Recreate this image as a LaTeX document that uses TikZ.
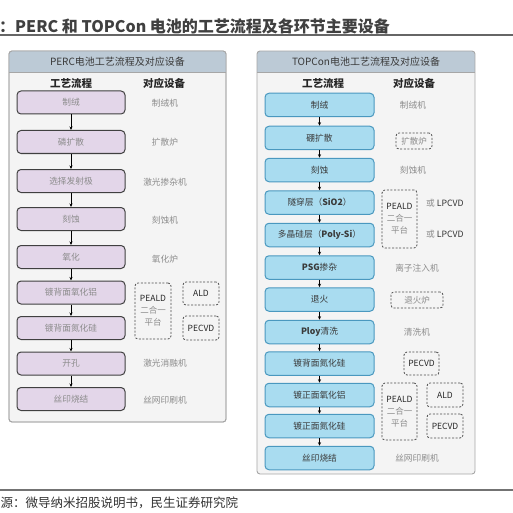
\documentclass[tikz,border=0pt]{standalone}
\usepackage{fontspec}
\setmainfont{Noto Sans CJK SC}
\usetikzlibrary{arrows.meta}
\definecolor{titlec}{HTML}{404040}
\definecolor{rulec}{HTML}{666666}
\definecolor{panelfill}{HTML}{F4F4F4}
\definecolor{paneldraw}{HTML}{A6A6A6}
\definecolor{hdrfill}{HTML}{BCCAD6}
\definecolor{purfill}{HTML}{E3D6E9}
\definecolor{purdraw}{HTML}{404040}
\definecolor{bluefill}{HTML}{A9DCF0}
\definecolor{bluedraw}{HTML}{4A98BF}
\definecolor{greytxt}{HTML}{8C8C8C}
\definecolor{darktxt}{HTML}{3A3A3A}
\begin{document}
\begin{tikzpicture}[x=1pt,y=-1pt,
  panel/.style={draw=paneldraw,fill=panelfill,line width=0.9pt,rounded corners=3pt},
  hdrtxt/.style={inner sep=0pt,text=darktxt,font=\fontsize{10}{12}\selectfont},
  colhead/.style={inner sep=0pt,text=black!85,font=\fontsize{10.5}{12}\selectfont\bfseries},
  pbox/.style={draw=purdraw,fill=purfill,line width=1pt,rounded corners=4pt,minimum width=108pt,minimum height=23pt,inner sep=0pt,text=greytxt,font=\fontsize{8.7}{10}\selectfont},
  tbox/.style={draw=bluedraw,fill=bluefill,line width=1pt,rounded corners=4pt,minimum width=109pt,minimum height=23.5pt,inner sep=0pt,text=darktxt,font=\fontsize{8.7}{10}\selectfont},
  equip/.style={inner sep=0pt,text=greytxt,font=\fontsize{8.7}{10}\selectfont},
  dbox/.style={draw=black!70,dash pattern=on 2pt off 1.6pt,line width=0.8pt,rounded corners=3pt,inner sep=0pt,align=center,text=black!85,font=\fontsize{8.5}{12}\selectfont},
  arr/.style={-{Stealth[length=3.5pt,width=3pt]},line width=0.7pt,black}
]
\useasboundingbox (0,0) rectangle (513,513);
\fill[white] (0,0) rectangle (513,513);

% title
\node[anchor=west,inner sep=0pt,text=titlec,font=\fontsize{16}{18}\selectfont\bfseries] (title) at (-1,26) {：PERC 和 TOPCon 电池的工艺流程及各环节主要设备};
\coordinate (tl) at (0,35);
\coordinate (tr) at (513,35);
\draw[rulec,line width=1.7pt] (tl) -- (tr);

% footer
\coordinate (fl) at (0,490);
\coordinate (fr) at (513,490);
\draw[black!55,line width=2pt] (fl) -- (fr);
\node[anchor=west,inner sep=0pt,text=black!80,font=\fontsize{12.5}{14}\selectfont] (src) at (0.5,503) {源：微导纳米招股说明书，民生证券研究院};

% ===== left panel =====
\draw[panel] (9,51) rectangle (226,422);
\begin{scope}
\clip[rounded corners=3pt] (9,51) rectangle (226,422);
\fill[hdrfill] (9,51) rectangle (226,72);
\end{scope}
\draw[paneldraw,line width=0.9pt] (9,72) -- (226,72);
\draw[paneldraw,line width=0.9pt,rounded corners=3pt] (9,51) rectangle (226,422);
\node[hdrtxt] (lh) at (117.5,62) {PERC电池工艺流程及对应设备};
\node[colhead] (lc1) at (71,83) {工艺流程};
\node[colhead] (lc2) at (164,83) {对应设备};

\node[pbox] (l1) at (71,102.5) {制绒};
\node[pbox] (l2) at (71,142) {磷扩散};
\node[pbox] (l3) at (71,181) {选择发射极};
\node[pbox] (l4) at (71,219) {刻蚀};
\node[pbox] (l5) at (71,257) {氧化};
\node[pbox] (l6) at (71,292.5) {镀背面氧化铝};
\node[pbox] (l7) at (71,328) {镀背面氮化硅};
\node[pbox] (l8) at (71,363.5) {开孔};
\node[pbox] (l9) at (71,399) {丝印烧结};
\foreach \a/\b in {l1/l2,l2/l3,l3/l4,l4/l5,l5/l6,l6/l7,l7/l8,l8/l9}
  \draw[arr] (\a) -- (\b);

\node[equip] (le1) at (165,103) {制绒机};
\node[equip] (le2) at (165,142) {扩散炉};
\node[equip] (le3) at (165,182) {激光掺杂机};
\node[equip] (le4) at (165,220) {刻蚀机};
\node[equip] (le5) at (165,259) {氧化炉};
\node[equip] (le8) at (165,363) {激光消融机};
\node[equip] (le9) at (165,400) {丝网印刷机};

\node[dbox,minimum width=36pt,minimum height=56pt] (lpeald) at (153,311) {PEALD\\{\color{greytxt}二合一}\\{\color{greytxt}平台}};
\node[dbox,minimum width=36pt,minimum height=23pt] (lald) at (201,293.5) {ALD};
\node[dbox,minimum width=36pt,minimum height=24pt] (lpecvd) at (201,328) {PECVD};

% ===== right panel =====
\begin{scope}
\clip[rounded corners=3pt] (257,51) rectangle (475,474);
\fill[panelfill] (257,51) rectangle (475,474);
\fill[hdrfill] (257,51) rectangle (475,72);
\end{scope}
\draw[paneldraw,line width=0.9pt] (257,72) -- (475,72);
\draw[paneldraw,line width=0.9pt,rounded corners=3pt] (257,51) rectangle (475,474);
\node[hdrtxt] (rh) at (366,62) {TOPCon电池工艺流程及对应设备};
\node[colhead] (rc1) at (323,83) {工艺流程};
\node[colhead] (rc2) at (414,83) {对应设备};

\node[tbox] (r1) at (319.5,105) {制绒};
\node[tbox] (r2) at (319.5,138) {硼扩散};
\node[tbox] (r3) at (319.5,170) {刻蚀};
\node[tbox] (r4) at (319.5,202.5) {隧穿层（\textbf{SiO2}）};
\node[tbox] (r5) at (319.5,235) {多晶硅层（\textbf{Poly-Si}）};
\node[tbox] (r6) at (319.5,267.5) {\textbf{PSG}掺杂};
\node[tbox] (r7) at (319.5,299.5) {退火};
\node[tbox] (r8) at (319.5,332) {\textbf{Ploy}清洗};
\node[tbox] (r9) at (319.5,363.5) {镀背面氮化硅};
\node[tbox] (r10) at (319.5,395) {镀正面氧化铝};
\node[tbox] (r11) at (319.5,426) {镀正面氮化硅};
\node[tbox] (r12) at (319.5,458) {丝印烧结};
\foreach \a/\b in {r1/r2,r2/r3,r3/r4,r4/r5,r5/r6,r6/r7,r7/r8,r8/r9,r9/r10,r10/r11,r11/r12}
  \draw[arr] (\a) -- (\b);

\node[equip] (re1) at (413,105) {制绒机};
\node[dbox,minimum width=36pt,minimum height=16pt,text=greytxt] (re2) at (414,141) {扩散炉};
\node[equip] (re3) at (413,170) {刻蚀机};
\node[dbox,minimum width=35pt,minimum height=58pt] (rpeald1) at (399.5,219) {PEALD\\{\color{greytxt}二合一}\\{\color{greytxt}平台}};
\node[anchor=west,inner sep=0pt,font=\fontsize{8.7}{10}\selectfont,text=black!80] (ror1) at (426,203) {{\color{greytxt}或}\ LPCVD};
\node[anchor=west,inner sep=0pt,font=\fontsize{8.7}{10}\selectfont,text=black!80] (ror2) at (426,234) {{\color{greytxt}或}\ LPCVD};
\node[equip] (re6) at (417,268) {离子注入机};
\node[dbox,minimum width=52pt,minimum height=16pt,text=greytxt] (re7) at (417,300) {退火炉};
\node[equip] (re8) at (417,332) {清洗机};
\node[dbox,minimum width=35pt,minimum height=23pt] (rpecvd1) at (421.5,363.5) {PECVD};
\node[dbox,minimum width=35pt,minimum height=57pt] (rpeald2) at (399.5,411.5) {PEALD\\{\color{greytxt}二合一}\\{\color{greytxt}平台}};
\node[dbox,minimum width=36pt,minimum height=24pt] (rald) at (445,395) {ALD};
\node[dbox,minimum width=36pt,minimum height=24pt] (rpecvd2) at (445,426) {PECVD};
\node[equip] (re12) at (417,458) {丝网印刷机};
\end{tikzpicture}
\end{document}
